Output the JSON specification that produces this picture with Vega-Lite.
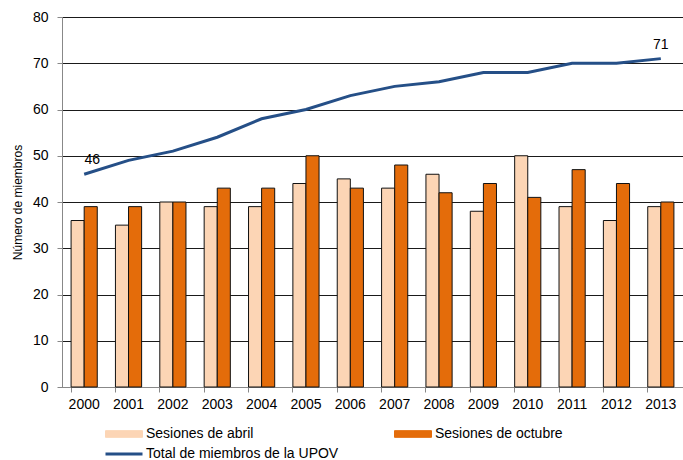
{
  "$schema": "https://vega.github.io/schema/vega-lite/v6.json",
  "width": 621,
  "height": 370,
  "autosize": {"type": "none"},
  "padding": {"left": 62, "top": 17, "right": 0, "bottom": 73},
  "background": "white",
  "config": {
    "font": "Liberation Sans",
    "view": {"stroke": null},
    "axis": {"labelFont": "Liberation Sans", "titleFont": "Liberation Sans", "labelColor": "#000", "titleColor": "#000"}
  },
  "data": {
    "values": [
      {"year": "2000", "abril": 36, "octubre": 39, "total": 46},
      {"year": "2001", "abril": 35, "octubre": 39, "total": 49},
      {"year": "2002", "abril": 40, "octubre": 40, "total": 51},
      {"year": "2003", "abril": 39, "octubre": 43, "total": 54},
      {"year": "2004", "abril": 39, "octubre": 43, "total": 58},
      {"year": "2005", "abril": 44, "octubre": 50, "total": 60},
      {"year": "2006", "abril": 45, "octubre": 43, "total": 63},
      {"year": "2007", "abril": 43, "octubre": 48, "total": 65},
      {"year": "2008", "abril": 46, "octubre": 42, "total": 66},
      {"year": "2009", "abril": 38, "octubre": 44, "total": 68},
      {"year": "2010", "abril": 50, "octubre": 41, "total": 68},
      {"year": "2011", "abril": 39, "octubre": 47, "total": 70},
      {"year": "2012", "abril": 36, "octubre": 44, "total": 70},
      {"year": "2013", "abril": 39, "octubre": 40, "total": 71}
    ]
  },
  "encoding": {
    "x": {
      "field": "year", "type": "nominal", "title": null,
      "scale": {"paddingInner": 0.41, "paddingOuter": 0.205},
      "axis": {"labelAngle": 0, "labelFontSize": 14, "bandPosition": 0, "domainColor": "#888", "tickColor": "#888", "tickSize": 5, "labelPadding": 5, "grid": false}
    }
  },
  "layer": [
    {
      "transform": [
        {"fold": ["abril", "octubre"], "as": ["key", "value"]},
        {"calculate": "datum.key === 'abril' ? 'Sesiones de abril' : 'Sesiones de octubre'", "as": "serie"}
      ],
      "mark": {"type": "bar", "stroke": "#111", "strokeWidth": 1},
      "encoding": {
        "xOffset": {"field": "serie", "type": "nominal", "sort": ["Sesiones de abril", "Sesiones de octubre"]},
        "y": {
          "field": "value", "type": "quantitative", "title": "Número de miembros",
          "scale": {"domain": [0, 80], "nice": false},
          "axis": {"values": [0, 10, 20, 30, 40, 50, 60, 70, 80], "labelFontSize": 14, "titleFontSize": 12, "titleFontWeight": "normal", "gridColor": "#1a1a1a", "gridWidth": 1, "domainColor": "#888", "tickColor": "#888", "tickSize": 5, "labelPadding": 9, "titlePadding": 8}
        },
        "color": {
          "field": "serie", "type": "nominal",
          "scale": {"domain": ["Sesiones de abril", "Sesiones de octubre", "Total de miembros de la UPOV"], "range": ["#FCD5B5", "#E46C0A", "#254F87"]},
          "legend": {
            "title": null, "orient": "none", "legendX": 55, "legendY": 410,
            "direction": "horizontal", "columns": 2, "columnPadding": 53, "rowPadding": 6,
            "symbolType": "M-1,-0.18H1V0.18H-1Z",
            "symbolSize": 1369, "symbolStrokeColor": "#111", "symbolStrokeWidth": 1, "symbolOpacity": 1,
            "labelFontSize": 14, "labelOffset": 15, "labelLimit": 400, "labelColor": "#000",
            "encode": {
              "symbols": {
                "update": {
                  "shape": {"signal": "datum.label === 'Total de miembros de la UPOV' ? 'stroke' : 'M-1,-0.18H1V0.18H-1Z'"},
                  "fill": {"signal": "datum.label === 'Total de miembros de la UPOV' ? 'transparent' : scale('color', datum.value)"},
                  "stroke": {"signal": "datum.label === 'Total de miembros de la UPOV' ? '#254F87' : '#111'"},
                  "strokeWidth": {"signal": "datum.label === 'Total de miembros de la UPOV' ? 3 : 1"}
                }
              }
            }
          }
        }
      }
    },
    {
      "mark": {"type": "line", "strokeWidth": 3},
      "encoding": {
        "y": {"field": "total", "type": "quantitative"},
        "color": {"datum": "Total de miembros de la UPOV"}
      }
    },
    {
      "transform": [{"filter": "datum.year === '2000'"}],
      "mark": {"type": "text", "dy": -14, "dx": 8, "fontSize": 14, "color": "#000"},
      "encoding": {
        "y": {"field": "total", "type": "quantitative"},
        "text": {"field": "total", "type": "quantitative"}
      }
    },
    {
      "transform": [{"filter": "datum.year === '2013'"}],
      "mark": {"type": "text", "dy": -14, "fontSize": 14, "color": "#000"},
      "encoding": {
        "y": {"field": "total", "type": "quantitative"},
        "text": {"field": "total", "type": "quantitative"}
      }
    }
  ]
}
